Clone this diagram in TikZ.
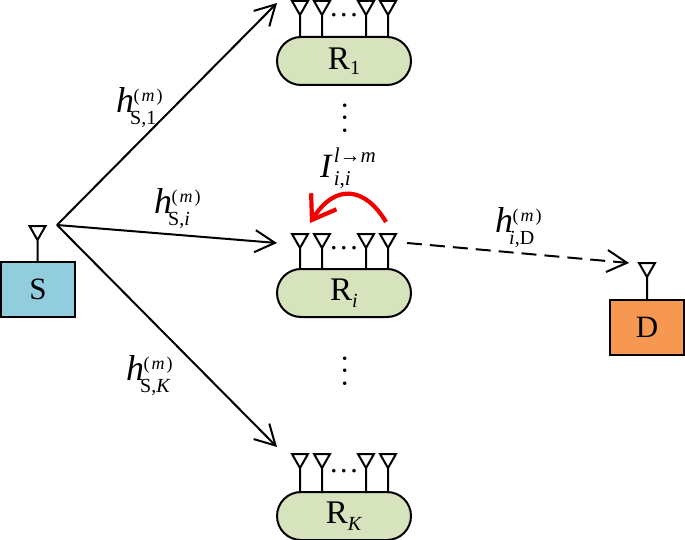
\documentclass[tikz,border=0pt]{standalone}
\usepackage{fontspec}
\setmainfont{Liberation Serif}
\usetikzlibrary{arrows.meta,shapes.misc}
\newcommand{\fsz}[1]{\fontsize{#1}{#1}\selectfont}
\newcommand{\hlab}[3]{{\fsz{36}\textit{#1}}\hspace{-4pt}\rlap{\hspace{3.5pt}\raisebox{11pt}{\fsz{18}(\hspace{2pt}\textit{#3}\hspace{2pt})}}\raisebox{-12pt}{\fsz{20}#2}}
\tikzset{
  x=1pt,y=-1pt,
  wire/.style={line width=2pt,black},
  link/.style={wire,-{Straight Barb[length=20pt,width=22pt,line width=2pt]}},
  dlink/.style={link,dash pattern=on 15pt off 8pt},
  selfloop/.style={line width=4.2pt,red!95!black,-{Straight Barb[length=22pt,width=30pt,line width=4.2pt]}},
  relay/.style={rounded rectangle,draw,line width=2pt,fill=relayfill,minimum width=134pt,minimum height=48pt,inner sep=0pt,font=\fsz{33}},
  term/.style={rectangle,draw,line width=2pt,minimum width=74pt,minimum height=55pt,inner sep=0pt,font=\fsz{31}},
  lab/.style={inner sep=0pt,anchor=base west},
  vdots/.style={rotate=90,inner sep=0pt,font=\fsz{30}},
  hdots/.style={inner sep=0pt,font=\fsz{30}},
  ant/.style={wire,line join=miter}
}
\definecolor{relayfill}{RGB}{214,227,188}
\definecolor{sfill}{RGB}{146,205,222}
\definecolor{dfill}{RGB}{246,152,82}
\newcommand{\antenna}[3]{\draw[ant] (#1,#2) -- (#1,#3+14) (#1-8,#3) -- (#1+8,#3) -- (#1,#3+14) -- cycle;}
\begin{document}
\begin{tikzpicture}
\useasboundingbox (0,0) rectangle (685,540);
% nodes
\node[term,fill=sfill] (S) at (38,289.5) {S};
\node[term,fill=dfill] (D) at (647,327) {D};
\node[relay] (R1) at (344,61) {R\raisebox{-5pt}{\fsz{20}1}};
\node[relay] (Ri) at (344,293) {R\raisebox{-7pt}{\fsz{20}\textit{i}}};
\node[relay] (RK) at (344,516) {R\raisebox{-7pt}{\fsz{20}\textit{K}}};
% antennas
\antenna{37.5}{262}{226}
\antenna{647}{299}{263}
\foreach \ax in {300,322,366,388}{
  \antenna{\ax}{37}{1}
  \antenna{\ax}{269}{234}
  \antenna{\ax}{493}{454}
}
% dots
\node[hdots] (d1a) at (344,15) {.\hspace{2.6pt}.\hspace{2.6pt}.};
\node[hdots] (d2a) at (344,248) {.\hspace{2.6pt}.\hspace{2.6pt}.};
\node[hdots] (d3a) at (344,471) {.\hspace{2.6pt}.\hspace{2.6pt}.};
\node[vdots] (v1) at (345,118) {.\hspace{5pt}.\hspace{5pt}.};
\node[vdots] (v2) at (345,371) {.\hspace{5pt}.\hspace{5pt}.};
% connector ends
\coordinate (src) at (57,225);
\coordinate (t1) at (277,3);
\coordinate (ti) at (277,243);
\coordinate (tK) at (277,447);
\coordinate (dsrc) at (407,243);
\coordinate (tD) at (629,263);
\coordinate (lf) at (386,222);
\coordinate (lt) at (310,223);
\draw[link] (src) -- (t1);
\draw[link] (src) -- (ti);
\draw[link] (src) -- (tK);
\draw[dlink] (dsrc) -- (tD);
\draw[selfloop] (lf) .. controls (366,188) and (336,182) .. (lt);
% labels
\node[lab] (l1) at (116,113) {\hlab{h}{S,1}{m}};
\node[lab] (l2) at (154,214) {\hlab{h}{S,\textit{i}}{m}};
\node[lab] (l3) at (126,380) {\hlab{h}{S,\textit{K}}{m}};
\node[lab] (l4) at (495,233) {\hlab{h}{\textit{i},D}{m}};
\node[lab] (l5) at (320,178) {{\fsz{34}\textit{I}}\hspace{1pt}\rlap{\raisebox{15pt}{\fsz{21}\textit{l}→\textit{m}}}\raisebox{-8pt}{\fsz{21}\textit{i},\textit{i}}};
\end{tikzpicture}
\end{document}
